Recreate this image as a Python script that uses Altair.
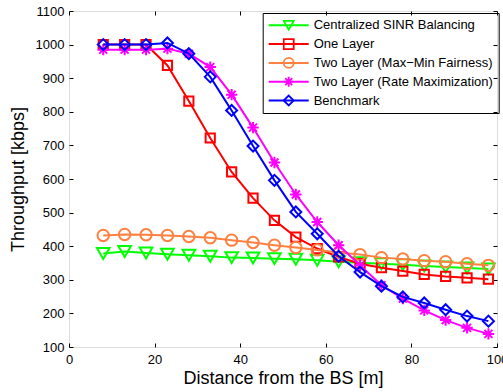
import altair as alt
import pandas as pd

# ---- data ----
distance = [8, 13, 18, 23, 28, 33, 38, 43, 48, 53, 58, 63, 68, 73, 78, 83, 88, 93, 98]

series_names = [
    "Centralized SINR Balancing",
    "One Layer",
    "Two Layer (Max\u2212Min Fairness)",
    "Two Layer (Rate Maximization)",
    "Benchmark",
]

sinr_balancing = [378, 384, 380, 376, 373, 370, 366, 365, 363, 361, 358, 354, 351, 348, 345, 341, 338, 335, 332]
one_layer = [1000, 1000, 1000, 938, 832, 722, 621, 543, 477, 427, 393, 368, 348, 336, 326, 316, 310, 306, 302]
two_layer_maxmin = [432, 435, 434, 432, 429, 425, 418, 411, 403, 396, 389, 381, 375, 366, 362, 357, 354, 348, 343]
two_layer_ratemax = [985, 985, 985, 988, 973, 933, 851, 753, 649, 554, 472, 403, 343, 284, 244, 209, 180, 157, 139]
benchmark = [1000, 1000, 1000, 1005, 973, 904, 804, 698, 596, 502, 437, 370, 323, 281, 249, 231, 211, 192, 177]

series_values = [sinr_balancing, one_layer, two_layer_maxmin, two_layer_ratemax, benchmark]

x_ticks = [0, 20, 40, 60, 80, 100]
y_ticks = [100, 200, 300, 400, 500, 600, 700, 800, 900, 1000, 1100]

# ---- styles ----
colors = ["#00ff00", "#ff0000", "#ff8040", "#ff00ff", "#0000ff"]
ASTERISK = "M-1,0L1,0M0,-1L0,1M-0.7,-0.7L0.7,0.7M-0.7,0.7L0.7,-0.7"
shapes = ["triangle-down", "square", "circle", ASTERISK, "diamond"]
marker_sizes = [160, 85, 130, 130, 120]
FONT = "Liberation Sans"

# marker keys differ from the series names (trailing space) so that the
# marker legend is not merged with the line legend
marker_keys = [n + " " for n in series_names]

rows = []
for name, key, vals in zip(series_names, marker_keys, series_values):
    for xv, yv in zip(distance, vals):
        rows.append({"x": xv, "y": yv, "series": name, "marker": key})
df = pd.DataFrame(rows)

x_scale = alt.Scale(domain=[0, 100], nice=False)
y_scale = alt.Scale(domain=[100, 1100], nice=False, zero=False)
color_scale = alt.Scale(domain=series_names, range=colors)
shape_scale = alt.Scale(domain=marker_keys, range=shapes)

LEG_X = 193.7
LEG_Y = 2
color_legend = alt.Legend(
    title=None, orient="none", legendX=LEG_X, legendY=LEG_Y,
    symbolType="stroke", symbolSize=1600, symbolStrokeWidth=2,
    clipHeight=14.6, rowPadding=3.8, padding=5, strokeColor="black",
    labelFont=FONT, labelFontSize=13, labelOffset=4, labelColor="black",
    labelLimit=400,
)
shape_legend = alt.Legend(
    title=None, orient="none", legendX=LEG_X + 15, legendY=LEG_Y,
    symbolSize=100, symbolStrokeWidth=1.8, symbolFillColor="transparent",
    symbolStrokeColor={"expr": "scale('color', trim(datum.value))"},
    clipHeight=14.6, rowPadding=3.8, padding=5, labelExpr="''",
)

layers = []
for i, name in enumerate(series_names):
    sub = alt.Chart(df).transform_filter(alt.datum.series == name)
    line = sub.mark_line(strokeWidth=2).encode(
        x=alt.X("x:Q", scale=x_scale, axis=None),
        y=alt.Y("y:Q", scale=y_scale, axis=None),
        color=alt.Color("series:N", scale=color_scale, legend=color_legend),
    )
    pts = sub.mark_point(filled=False, strokeWidth=2, size=marker_sizes[i], opacity=1).encode(
        x=alt.X("x:Q", scale=x_scale, axis=None),
        y=alt.Y("y:Q", scale=y_scale, axis=None),
        color=alt.Color("series:N", scale=color_scale, legend=color_legend),
        shape=alt.Shape("marker:N", scale=shape_scale, legend=shape_legend),
    )
    layers += [line, pts]

INWARD = {"expr": "-4"}
axis_common = dict(
    domain=False, grid=False, tickColor="black", tickWidth=1, tickSize=INWARD,
    labelFont=FONT, labelFontSize=13, labelColor="black",
    labelFlush=False, labelOverlap=False, format="d",
    titleFont=FONT, titleFontSize=18, titleFontWeight="normal", titleColor="black",
)

axis_layer_main = alt.Chart(df).mark_point(opacity=0).encode(
    x=alt.X("x:Q", scale=x_scale, axis=alt.Axis(
        orient="bottom", values=x_ticks, title="Distance from the BS [m]",
        labelPadding=10, titlePadding=3, **axis_common)),
    y=alt.Y("y:Q", scale=y_scale, axis=alt.Axis(
        orient="left", values=y_ticks, title="Throughput [kbps]",
        labelPadding=9, titlePadding=8, **axis_common)),
)
axis_layer_box = alt.Chart(df).mark_point(opacity=0).encode(
    x=alt.X("x:Q", scale=x_scale, axis=alt.Axis(
        orient="top", values=x_ticks, title=None, labels=False, **axis_common)),
    y=alt.Y("y:Q", scale=y_scale, axis=alt.Axis(
        orient="right", values=y_ticks, title=None, labels=False, **axis_common)),
)

chart = alt.layer(axis_layer_main, axis_layer_box, *layers).resolve_axis(
    x="independent", y="independent"
).properties(
    width=428, height=336,
    autosize=alt.AutoSizeParams(type="none"),
    padding={"left": 69, "top": 11, "right": 6, "bottom": 45},
    background="white",
).configure_view(
    stroke="black", strokeWidth=2
).configure(font=FONT)

chart.save("out.html", embed_options={"renderer": "svg", "actions": False})
